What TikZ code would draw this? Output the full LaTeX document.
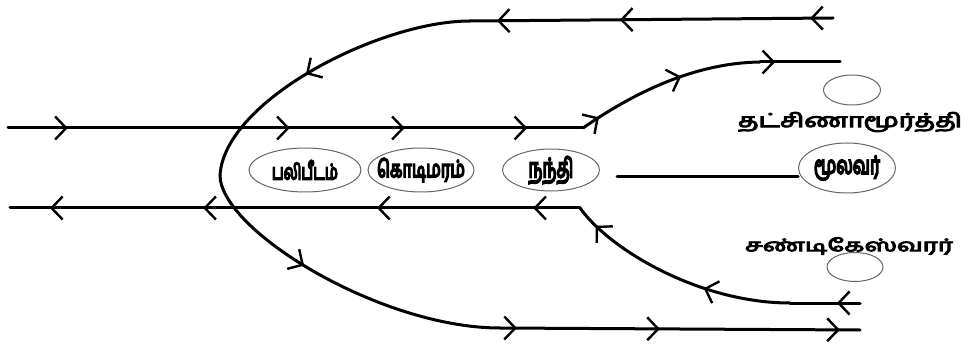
\documentclass[tikz,border=0pt]{standalone}
\usepackage{fontspec}
\usepackage{graphicx}
\newfontfamily\tamil[Script=Tamil, AutoFakeBold=5]{Hind Madurai}
\newfontfamily\tamilheavy[Script=Tamil, AutoFakeBold=8]{Hind Madurai}
\usetikzlibrary{arrows.meta,decorations.markings,shapes.geometric}
\tikzset{
  chev/.tip={Straight Barb[length=11pt,width=23pt,line width=2.4pt]},
  route/.style={line width=3pt, line cap=round, line join=round},
  am/.style={postaction={decorate,decoration={markings,mark=at position #1 with {\arrow{chev}}}}},
  elp/.style={ellipse, draw=black!60, line width=1pt, inner sep=0pt, font=\tamilheavy\bfseries},
  lbl/.style={inner sep=0pt, font=\tamil\bfseries}
}
\newcommand{\fitt}[3]{\makebox[0pt]{\resizebox{#1}{#2}{#3}}}
\begin{document}
\begin{tikzpicture}[x=1pt,y=-1pt]
\useasboundingbox[fill=white] (0,0) rectangle (968,347);
% nodes
\node[elp, minimum width=112pt, minimum height=44pt] (bali) at (305,170) {\fitt{66pt}{19pt}{பலிபீடம்}};
\node[elp, minimum width=106pt, minimum height=44pt] (kodi) at (421,170) {\fitt{88pt}{19pt}{கொடிமரம்}};
\node[elp, minimum width=97pt, minimum height=42pt] (nandi) at (551,170) {\fitt{45pt}{21pt}{நந்தி}};
\node[elp, minimum width=97pt, minimum height=50pt] (mula) at (847,168) {\fitt{66pt}{18pt}{மூலவர்}};
\node[elp, minimum width=57pt, minimum height=30pt] (dakE) at (852,90) {};
\node[lbl] (dak) at (850,122) {\resizebox{224pt}{15pt}{தட்சிணாமூர்த்தி}};
\node[lbl] (chan) at (849,246) {\resizebox{208pt}{14pt}{சண்டிகேஸ்வரர்}};
\node[elp, minimum width=56pt, minimum height=29pt] (chanE) at (855,267) {};
% coordinates
\coordinate (t0) at (833,18);
\coordinate (t1) at (470,21);
\coordinate (lp) at (220,175);
\coordinate (b0) at (500,328);
\coordinate (b1) at (860,330);
\coordinate (u0) at (8,128);
\coordinate (u1) at (583,128);
\coordinate (u2) at (760,62);
\coordinate (u3) at (840,62);
\coordinate (l0) at (860,303);
\coordinate (l1) at (790,303);
\coordinate (l2) at (580,208);
\coordinate (l3) at (10,208);
\coordinate (m0) at (617,177);
% outer loop
\draw[route, am=0.063, am=0.587, am=0.926] (t0) -- (t1);
\draw[route, am=0.56] (t1) .. controls (380,21) and (225,100) .. (lp);
\draw[route, am=0.38] (lp) .. controls (220,230) and (380,328) .. (b0);
\draw[route, am=0.047, am=0.444, am=0.944] (b0) -- (b1);
% upper branch
\draw[route, am=0.104, am=0.49, am=0.69, am=0.903] (u0) -- (u1);
\draw[route, am=0.1, am=0.58] (u1) .. controls (635,92) and (695,63) .. (u2);
\draw[route, am=0.19] (u2) -- (u3);
% lower branch
\draw[route, am=0.33] (l0) -- (l1);
\draw[route, am=0.37, am=0.9] (l1) .. controls (700,303) and (610,250) .. (l2);
\draw[route, am=0.082, am=0.356, am=0.661, am=0.93] (l2) -- (l3);
% middle line
\draw[route] (m0) -- (m0 -| mula.west);
\end{tikzpicture}
\end{document}
